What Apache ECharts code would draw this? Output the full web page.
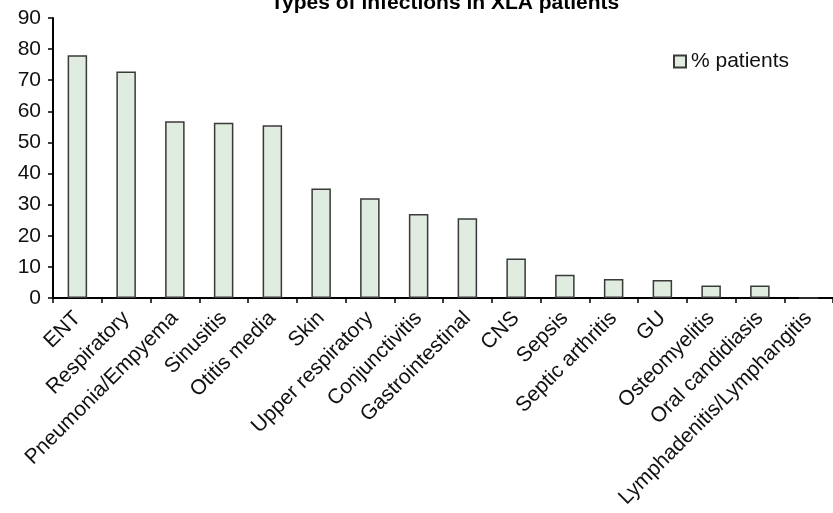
<!DOCTYPE html>
<html>
<head>
<meta charset="utf-8">
<script src="https://cdn.jsdelivr.net/npm/echarts@6/dist/echarts.min.js"></script>
<style>
html,body{margin:0;padding:0;background:#fff;}
#chart{width:833px;height:513px;}
</style>
</head>
<body>
<div id="chart"></div>
<script>
const categories = ["ENT","Respiratory","Pneumonia/Empyema","Sinusitis","Otitis media","Skin","Upper respiratory","Conjunctivitis","Gastrointestinal","CNS","Sepsis","Septic arthritis","GU","Osteomyelitis","Oral candidiasis","Lymphadenitis/Lymphangitis"];
const patientsPct = [78, 72.8, 56.8, 56.3, 55.5, 35.2, 32.1, 27.0, 25.6, 12.7, 7.5, 6.1, 5.8, 4.0, 4.0, 0];
const seriesName = "% patients";
const chartTitle = "Types of infections in XLA patients";

const chart = echarts.init(document.getElementById('chart'), null, {renderer:'canvas'});
const font = "'Liberation Sans', Arial, sans-serif";
chart.setOption({
  animation:false,
  textStyle:{fontFamily:font},
  title:{
    text:chartTitle,
    left:440, textAlign:'center', top:-12,
    textStyle:{fontFamily:font,fontSize:21,fontWeight:'bold',color:'#000'}
  },
  legend:{
    data:[seriesName],
    left:668, top:46,
    itemWidth:12, itemHeight:12, itemGap:8,
    icon:'rect',
    textStyle:{fontFamily:font,fontSize:21,color:'#111'}
  },
  grid:{left:53, right:0, top:18, bottom:215, containLabel:false},
  xAxis:{
    type:'category',
    data:categories,
    boundaryGap:true,
    axisLine:{show:true,lineStyle:{color:'#000',width:2}},
    axisTick:{show:true,alignWithLabel:false,length:5,lineStyle:{color:'#000',width:1.5}},
    axisLabel:{interval:0,rotate:45,fontSize:21,color:'#111',fontFamily:font,margin:17}
  },
  yAxis:{
    type:'value',
    min:0,max:90,interval:10,
    axisLine:{show:true,lineStyle:{color:'#000',width:2}},
    axisTick:{show:true,length:5,lineStyle:{color:'#000',width:1.5}},
    splitLine:{show:false},
    axisLabel:{fontSize:21,color:'#111',fontFamily:font,margin:12}
  },
  series:[{
    name:seriesName,
    type:'bar',
    data:patientsPct,
    barWidth:'40%',
    itemStyle:{color:'#dfecdf',borderColor:'#3a3a3a',borderWidth:1.5}
  }]
});
</script>
</body>
</html>
